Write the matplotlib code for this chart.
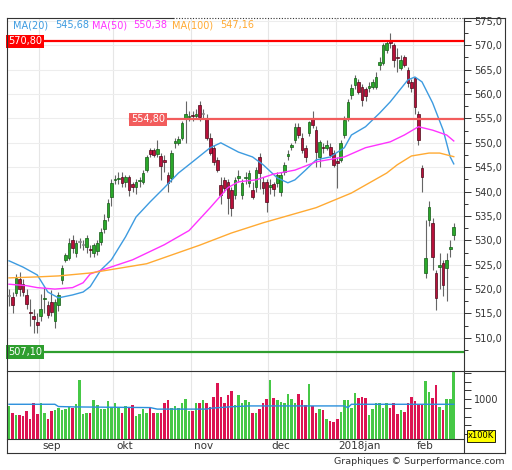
import numpy as np
import pandas as pd
import matplotlib
matplotlib.use("Agg")
import matplotlib.pyplot as plt
from matplotlib.lines import Line2D
from matplotlib.ticker import FixedLocator, FuncFormatter

W, H = 512, 470

# trading days (exchange closed 25-26 Dec and 1 Jan)
dates = pd.bdate_range("2017-08-21", "2018-02-16")
dates = dates.drop(pd.to_datetime(["2017-12-25", "2017-12-26", "2018-01-01"]))

opens = [518.5, 518.4, 519.2, 522.0, 521.0, 518.8, 515.3, 514.5, 513.3, 514.5,
         517.9, 516.7, 517.4, 513.5, 516.8, 521.9, 526.0, 526.4, 530.0, 527.5,
         529.7, 529.0, 528.7, 528.3, 527.5, 527.8, 529.7, 532.3, 534.8, 538.9,
         542.4, 542.5, 543.0, 542.0, 543.0, 541.5, 541.0, 542.2, 542.0, 544.4,
         548.5, 548.5, 547.8, 547.3, 546.5, 543.4, 542.8, 550.0, 550.0, 551.0,
         555.0, 555.3, 555.8, 555.5, 557.8, 556.0, 555.0, 551.0, 549.0, 546.5,
         541.4, 542.4, 542.0, 540.3, 539.3, 542.8, 539.3, 542.8, 541.8, 540.3,
         541.0, 547.0, 542.0, 542.0, 541.0, 541.5, 541.8, 540.0, 544.0, 547.2,
         549.2, 550.6, 553.3, 551.0, 549.0, 552.0, 555.0, 552.6, 547.0, 549.2,
         549.0, 549.2, 548.0, 546.3, 546.5, 551.6, 555.1, 559.8, 561.9, 562.5,
         561.5, 561.0, 561.2, 561.5, 561.5, 566.0, 566.4, 569.0, 571.0, 570.0,
         567.5, 565.4, 567.6, 565.0, 562.5, 563.3, 556.0, 544.8, 523.3, 534.2,
         533.6, 523.3, 524.5, 525.4, 524.4, 528.3, 531.0]
highs = [520.0, 519.5, 523.0, 523.5, 522.0, 520.0, 518.0, 516.0, 515.0, 519.0,
         520.5, 517.5, 519.8, 518.0, 519.5, 525.0, 527.5, 530.5, 531.0, 530.0,
         530.5, 530.0, 531.0, 529.0, 529.5, 530.0, 532.5, 535.5, 538.5, 542.5,
         543.5, 544.0, 544.0, 543.5, 543.5, 542.0, 542.5, 543.0, 544.5, 547.5,
         549.0, 549.0, 550.5, 548.0, 547.5, 544.0, 548.5, 551.0, 551.5, 554.5,
         558.5, 556.5, 556.5, 557.0, 558.5, 557.0, 556.0, 552.0, 549.5, 547.0,
         543.0, 543.0, 542.5, 541.0, 543.0, 544.5, 542.5, 544.0, 544.5, 542.0,
         545.0, 548.0, 543.0, 542.5, 542.5, 542.0, 544.0, 544.0, 546.0, 548.5,
         550.0, 554.0, 554.0, 552.0, 549.5, 554.5, 556.5, 553.5, 550.5, 550.0,
         550.5, 550.0, 548.5, 547.0, 550.5, 555.5, 559.0, 562.0, 564.0, 563.0,
         562.0, 561.5, 562.5, 563.0, 564.5, 567.5, 570.5, 571.0, 572.5, 570.5,
         569.5, 568.0, 568.0, 565.5, 563.0, 563.5, 556.5, 545.5, 534.2, 538.0,
         534.5, 524.0, 527.5, 526.0, 527.5, 530.0, 533.5]
lows = [516.5, 515.0, 518.5, 518.5, 518.5, 516.0, 512.5, 511.0, 511.0, 513.5,
        515.0, 514.0, 514.5, 512.0, 515.5, 521.0, 525.5, 526.0, 527.5, 526.5,
        528.5, 528.0, 527.5, 526.5, 526.5, 527.0, 529.0, 531.5, 534.0, 537.0,
        541.5, 541.5, 541.0, 541.0, 539.0, 540.0, 539.5, 541.0, 541.5, 544.0,
        547.0, 547.0, 547.0, 542.4, 544.0, 540.0, 542.0, 549.0, 549.5, 550.5,
        550.0, 554.5, 554.5, 555.0, 554.5, 555.0, 550.5, 547.5, 545.5, 544.0,
        537.5, 540.0, 535.5, 535.0, 538.5, 542.0, 538.5, 541.5, 541.0, 538.5,
        540.0, 540.5, 539.5, 535.8, 539.5, 539.0, 541.0, 539.0, 543.5, 546.5,
        548.5, 550.0, 551.0, 548.0, 546.0, 551.5, 553.0, 545.0, 545.0, 548.0,
        548.5, 547.0, 545.0, 540.8, 546.0, 551.0, 554.5, 559.0, 561.0, 560.0,
        557.5, 558.5, 560.5, 561.0, 561.0, 565.0, 566.0, 568.5, 569.5, 565.5,
        564.5, 565.0, 565.5, 561.5, 560.5, 556.0, 549.5, 540.0, 522.3, 533.0,
        524.0, 515.7, 520.0, 518.5, 517.5, 526.5, 530.0]
closes = [518.5, 516.8, 522.3, 520.0, 519.5, 517.0, 515.0, 513.8, 512.7, 516.0,
          518.1, 514.7, 515.2, 517.4, 518.8, 524.4, 527.0, 529.5, 528.5, 529.5,
          529.7, 529.0, 530.5, 528.0, 529.0, 529.5, 531.7, 534.2, 537.7, 541.8,
          542.6, 542.8, 541.8, 543.0, 540.3, 541.0, 542.0, 542.3, 543.8, 547.0,
          547.8, 547.5, 548.8, 545.3, 546.0, 541.8, 548.0, 550.3, 550.8, 554.0,
          556.0, 555.6, 555.5, 556.0, 555.3, 556.0, 551.0, 548.0, 546.0, 544.5,
          539.3, 540.8, 538.7, 536.7, 542.4, 543.2, 541.8, 543.0, 543.8, 538.9,
          544.4, 543.8, 540.8, 537.9, 541.3, 540.5, 543.4, 543.4, 545.5, 547.8,
          549.6, 553.3, 551.6, 548.5, 547.0, 554.3, 553.7, 548.1, 550.2, 549.0,
          549.5, 547.5, 545.5, 545.8, 550.0, 554.7, 558.4, 561.3, 563.3, 560.4,
          558.8, 559.5, 561.6, 562.5, 563.5, 566.6, 570.0, 570.5, 570.5, 567.0,
          567.3, 567.0, 566.0, 562.3, 561.3, 557.4, 550.6, 543.0, 526.4, 536.9,
          526.6, 518.2, 525.0, 520.9, 526.0, 528.6, 532.8]

# volume in units of 100K
volumes = [844, 690, 637, 637, 614, 729, 553, 920, 668, 905,
           690, 553, 729, 752, 790, 752, 767, 821, 790, 882,
           1442, 652, 690, 690, 974, 859, 767, 783, 951, 821,
           920, 806, 675, 836, 821, 859, 614, 652, 783, 675,
           828, 675, 690, 675, 905, 974, 806, 844, 806, 920,
           997, 729, 729, 920, 920, 982, 920, 828, 1058, 1365,
           1058, 920, 1097, 1181, 859, 1089, 920, 974, 943,
           693, 690, 783, 920, 997, 1442, 1036, 982, 936, 905,
           1128, 1013, 920, 1120, 982, 874, 1342, 844, 690, 767,
           752, 537, 499, 476, 537, 713, 974, 974, 806, 1150,
           1036, 1058, 1020, 637, 783, 905, 905, 806, 920, 806,
           920, 652, 752, 713, 920, 1051, 959, 859, 859, 1419,
           1166, 1036, 1319, 821, 752, 1013, 1013, 1650]

# moving averages (day index, value)
ma20_idx = [0, 4, 8, 11, 14, 18, 21, 23, 26, 29, 33, 36, 40, 44, 48, 52, 57, 60, 65, 69,
            72, 76, 79, 81, 84, 87, 91, 95, 97, 101, 105, 108, 110, 113, 115, 117, 120, 123, 125, 126]
ma20_val = [525.8, 524.5, 522.9, 519.4, 518.2, 518.8, 519.4, 520.5, 523.9, 526.0,
            530.7, 534.8, 537.9, 540.8, 543.8, 546.1, 549.0, 550.0, 548.1, 547.1,
            545.5, 542.8, 541.8, 542.4, 544.4, 546.5, 547.1, 549.0, 551.6, 553.3,
            556.1, 558.4, 560.2, 562.9, 563.5, 562.5, 558.2, 552.6, 547.1, 545.68]
ma50_idx = [0, 5, 8, 13, 18, 21, 23, 35, 44, 51, 57, 62, 65, 70, 75, 81, 87, 95, 101,
            108, 112, 116, 120, 124, 126]
ma50_val = [521.0, 520.7, 520.3, 520.0, 520.3, 521.3, 523.1, 526.0, 529.1, 532.0,
            536.7, 540.8, 542.0, 542.4, 543.6, 544.4, 546.1, 547.1, 549.0, 550.2,
            551.6, 553.3, 552.6, 551.6, 550.38]
ma100_idx = [0, 8, 14, 23, 39, 54, 63, 72, 87, 97, 107, 110, 114, 119, 122, 126]
ma100_val = [522.3, 522.5, 522.7, 523.3, 525.2, 529.0, 531.5, 533.6, 536.7, 539.7,
             543.8, 545.5, 547.3, 547.9, 547.9, 547.16]
vol_ma_idx = [0, 13, 14, 19, 40, 42, 56, 57, 63, 68, 95, 96, 97, 126]
vol_ma_val = [882, 882, 830, 821, 806, 771, 771, 790, 826, 844, 844, 803, 882, 882]

levels = [570.80, 554.80, 507.10]
level_colors = ["#ff0000", "#f25c5c", "#2e9e2e"]
level_label_x = [0.0, 0.269, 0.0]

legend_names = ["MA(20)", "MA(50)", "MA(100)"]
legend_values = [545.68, 550.38, 547.16]
ma_colors = ["#3d9be0", "#ff33ff", "#ffaa33"]

month_names = {9: "sep", 10: "okt", 11: "nov", 12: "dec", 1: "jan", 2: "feb"}

GREEN, RED, GREY = "#2aa82a", "#b8103a", "#888888"
VGREEN, VRED = "#46c846", "#dc1452"
FRAME = "#333333"


def comma(v, nd=1):
    return f"{v:.{nd}f}".replace(".", ",")


def box(l, t, r, b):
    return [l / W, 1 - b / H, (r - l) / W, (b - t) / H]


fig = plt.figure(figsize=(W / 100, H / 100), dpi=100)
ax = fig.add_axes(box(7, 18, 464, 371))
axv = fig.add_axes(box(7, 371, 464, 438.5), sharex=ax)
axs = fig.add_axes(box(7, 438.5, 464, 453), sharex=ax)

o = np.array(opens)
h = np.array(highs)
l = np.array(lows)
c = np.array(closes)
x = np.arange(len(dates))
col = np.where(c > o, GREEN, np.where(c < o, RED, GREY))
edge = np.where(c > o, "#145a16", np.where(c < o, "#4a0818", GREY))

# month boundaries
months = pd.Series(dates.month)
starts = [i for i in range(1, len(dates)) if months[i] != months[i - 1]]

for a in (ax, axv):
    for s in starts:
        a.axvline(s - 0.5, color="#e6e6e6", lw=0.8, zorder=0)
for v in np.arange(510, 576, 5):
    ax.axhline(v, color="#ededed", lw=0.8, zorder=0)

# candles
ax.vlines(x, l, h, color="#666666", lw=0.8, zorder=2)
ax.bar(x, np.maximum(np.abs(c - o), 0.2), bottom=np.minimum(o, c), width=0.75,
       color=col, edgecolor=edge, linewidth=0.5, zorder=3)

# moving averages
for idx, val, mc in zip([ma20_idx, ma50_idx, ma100_idx], [ma20_val, ma50_val, ma100_val], ma_colors):
    ax.plot(idx, val, color=mc, lw=1.0, zorder=4)

# support / resistance levels
for lv, lc, lx in zip(levels, level_colors, level_label_x):
    ax.axhline(lv, xmin=lx, xmax=1, color=lc, lw=1.6, zorder=5)
    ax.text(lx + 0.002, lv, comma(lv, 2), transform=ax.get_yaxis_transform(),
            ha="left", va="center", fontsize=7, color="white", zorder=6,
            bbox=dict(boxstyle="square,pad=0.18", fc=lc, ec="none"))

# legend
name_px = [13, 92, 172]
val_px = [55, 133, 220]
for nm, vv, mc, nx, vx in zip(legend_names, legend_values, ma_colors, name_px, val_px):
    ax.text((nx - 7) / 457, 0.979, nm, transform=ax.transAxes, fontsize=7, color=mc,
            ha="left", va="center", zorder=6)
    ax.text((vx - 7) / 457, 0.979, comma(vv, 2), transform=ax.transAxes, fontsize=7,
            color=mc, ha="left", va="center", zorder=6)

ax.set_xlim(-0.57, 128.9)
ax.set_ylim(503.2, 575.6)
ax.yaxis.tick_right()
ax.yaxis.set_major_locator(FixedLocator(np.arange(510, 576, 5)))
ax.yaxis.set_minor_locator(FixedLocator(np.arange(507.5, 576, 5)))
ax.yaxis.set_major_formatter(FuncFormatter(lambda v, p: comma(v)))
ax.tick_params(axis="y", which="major", length=5, width=0.7, color=FRAME,
               labelsize=7, labelcolor="#333333", pad=2)
ax.tick_params(axis="y", which="minor", length=3, width=0.7, color=FRAME)
ax.tick_params(axis="x", which="both", bottom=False, labelbottom=False)

# volume
vcol = np.where(c >= o, VGREEN, VRED)
axv.bar(x, volumes, width=0.72, color=vcol, zorder=2)
axv.plot(vol_ma_idx, vol_ma_val, color="#2a8fdc", lw=1.0, zorder=3)
axv.set_ylim(97, 1645)
axv.yaxis.tick_right()
axv.yaxis.set_major_locator(FixedLocator(np.arange(200, 1700, 200)))
axv.yaxis.set_major_formatter(FuncFormatter(lambda v, p: "1000" if v == 1000 else ""))
axv.tick_params(axis="y", length=5, width=0.7, color=FRAME, labelsize=7,
                labelcolor="#333333", pad=2)
axv.tick_params(axis="x", bottom=False, labelbottom=False)

# month labels strip
for s in starts:
    d = dates[s]
    name = month_names[d.month]
    if d.month == 1:
        name = f"{d.year}{name}"
    axs.text(s - 0.5 + 0.9, 0.45, name, fontsize=7.5, color="#333333",
             ha="left", va="center")
axs.set_ylim(0, 1)
axs.set_xticks([])
axs.set_yticks([])

for a in (ax, axv, axs):
    for sp in a.spines.values():
        sp.set_visible(False)


def fline(x0, y0, x1, y1, ls="-"):
    fig.add_artist(Line2D([x0 / W, x1 / W], [1 - y0 / H, 1 - y1 / H],
                          transform=fig.transFigure, color=FRAME, lw=0.8, ls=ls))


fline(7, 18, 173, 18)
fline(173, 18, 464, 18, ls=(0, (1, 1.5)))
fline(464, 18, 505, 18)
fline(7, 18, 7, 453)
fline(464, 18, 464, 453)
fline(505, 18, 505, 453)
fline(7, 453, 505, 453)
fline(7, 371, 505, 371)
fline(7, 438.5, 464, 438.5)

fig.text(481 / W, 1 - 436 / H, "x100K", fontsize=6, color="black", ha="center", va="center",
         bbox=dict(boxstyle="square,pad=0.15", fc="#ffff00", ec="black", lw=0.6))
fig.text(505 / W, 1 - 461 / H, "Graphiques © Surperformance.com", fontsize=6.8,
         color="#333333", ha="right", va="center")

fig.savefig("out.png", dpi=100, facecolor="white")
